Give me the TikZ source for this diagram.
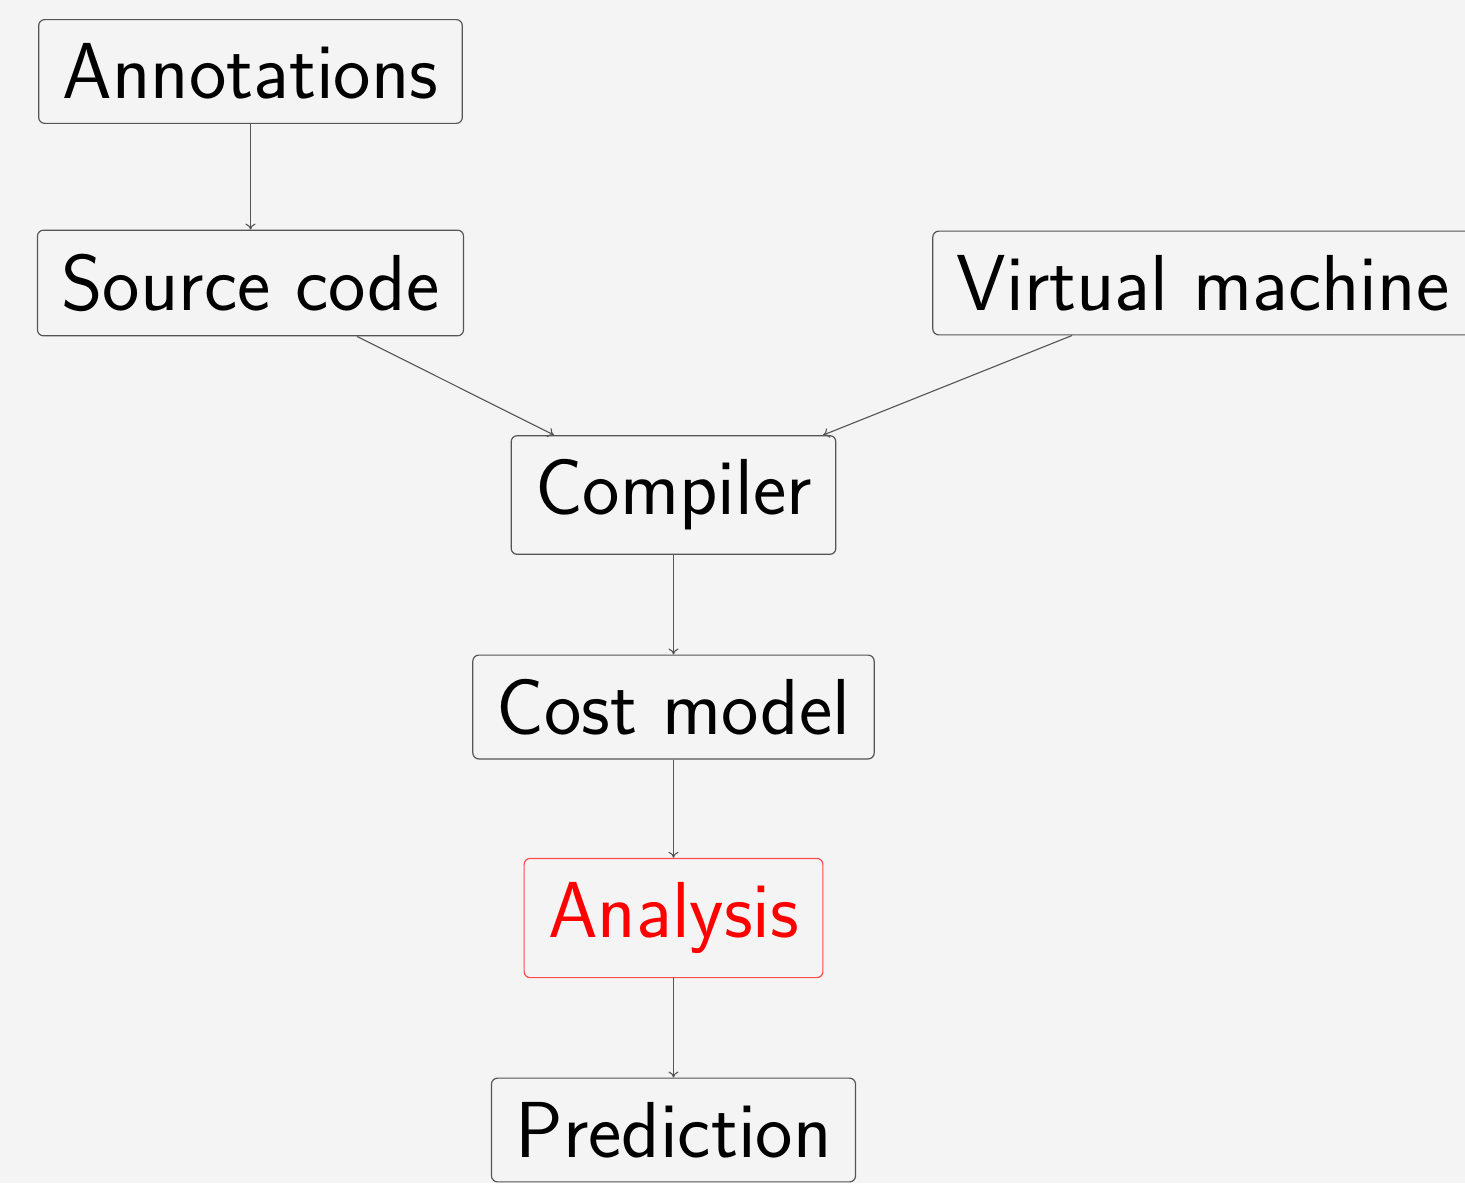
\documentclass[tikz,border=0pt]{standalone}
\usepackage{fontspec}
\usetikzlibrary{arrows.meta}
\definecolor{bg}{HTML}{F4F4F4}
\definecolor{edge}{HTML}{555555}
\begin{document}
\begin{tikzpicture}[x=0.5pt,y=-0.5pt,
  box/.style={draw=edge, line width=0.6pt, rounded corners=3pt, inner xsep=12pt, inner ysep=12pt,
    font=\sffamily\fontsize{39.7}{48}\selectfont, text=black},
  hot/.style={box, draw=red!70, text=red},
  link/.style={draw=edge, line width=0.55pt, -{To[length=3pt,width=5pt]}}]
\fill[bg] (0,0) rectangle (1465,1183);
\useasboundingbox (0,0) rectangle (1465,1183);
\node[box] (ann) at (250.5,71.5) {Annotations};
\node[box] (src) at (250.5,283) {Source code};
\node[box] (vm) at (1203,283) {Virtual machine};
\node[box] (cmp) at (673.5,495) {Compiler};
\node[box] (cost) at (673.5,707) {Cost model};
\node[hot] (ana) at (673.5,918) {Analysis};
\node[box] (pred) at (673.5,1130) {Prediction};
\draw[link] (ann) -- (src);
\draw[link] (src) -- (cmp);
\draw[link] (vm) -- (cmp);
\draw[link] (cmp) -- (cost);
\draw[link] (cost) -- (ana);
\draw[link] (ana) -- (pred);
\end{tikzpicture}
\end{document}
